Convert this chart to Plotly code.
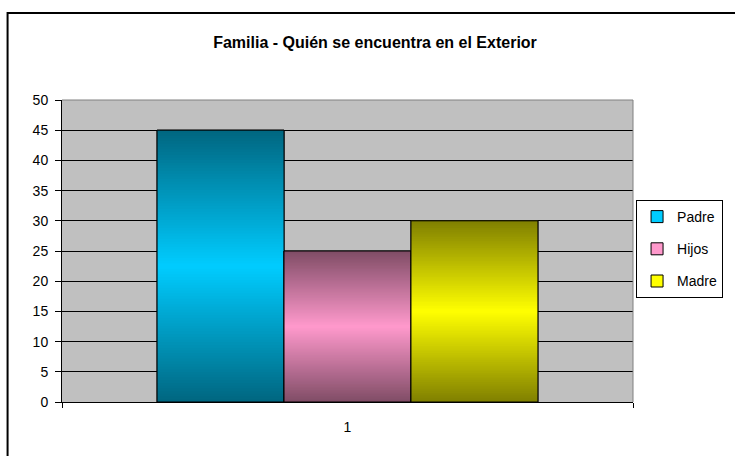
import plotly.graph_objects as go

# data
category = ["1"]
series_names = ["Padre", "Hijos", "Madre"]
series_values = [45, 25, 30]
y_ticks = [0, 5, 10, 15, 20, 25, 30, 35, 40, 45, 50]

# Excel-style fills: bright centre colour, half-shade at the edges
bright = {"Padre": (0, 204, 255), "Hijos": (255, 153, 204), "Madre": (255, 255, 0)}

FONT = "Liberation Sans, Arial, sans-serif"
STEPS = 100

W, H = 735, 456
ML, MR, MT, MB = 62, 96, 100, 54
PW, PH = W - ML - MR, H - MT - MB


def shade(rgb, t):
    # t = 0 centre (bright), t = 1 edge (half intensity)
    f = 1 - 0.5 * t
    return "rgb(%d,%d,%d)" % tuple(round(c * f) for c in rgb)


fig = go.Figure()

for name, val in zip(series_names, series_values):
    rgb = bright[name]
    # base bar, also used for the legend entry
    fig.add_trace(go.Bar(
        x=category, y=[val], name=name, offsetgroup=name, legendgroup=name,
        marker=dict(color=shade(rgb, 0), line=dict(color="black", width=1))))
    # gradient: thin overlapping slices of the same bar
    h = val / STEPS
    bases = [i * h for i in range(STEPS)]
    heights = [min(3 * h, val - b) for b in bases]
    cols = [shade(rgb, abs(2 * (i + 0.5) / STEPS - 1)) for i in range(STEPS)]
    fig.add_trace(go.Bar(
        x=category * STEPS, y=heights, base=bases, offsetgroup=name,
        legendgroup=name, showlegend=False,
        marker=dict(color=cols, line=dict(width=0))))
    # outline on top
    fig.add_trace(go.Bar(
        x=category, y=[val], offsetgroup=name, legendgroup=name, showlegend=False,
        marker=dict(color="rgba(0,0,0,0)", line=dict(color="black", width=1))))

fig.update_layout(
    width=W, height=H,
    margin=dict(l=ML, r=MR, t=MT, b=MB),
    paper_bgcolor="white", plot_bgcolor="#C0C0C0",
    barmode="group", bargap=0.333, bargroupgap=0,
    hovermode=False,
    font=dict(family=FONT, size=14, color="black"),
    title=dict(text="<b>Familia - Quién se encuentra en el Exterior</b>",
               font=dict(family=FONT, size=16, color="black"),
               xref="container", x=375 / W, xanchor="center",
               yref="container", y=1 - 42 / H, yanchor="middle"),
    legend=dict(x=(730 - ML) / PW, xanchor="right",
                y=(H - MB - 249) / PH, yanchor="middle",
                bgcolor="white", bordercolor="black", borderwidth=1,
                traceorder="grouped", tracegroupgap=11,
                itemclick=False, itemdoubleclick=False,
                font=dict(family=FONT, size=14, color="black")),
    xaxis=dict(type="category", showgrid=False, showline=True, linecolor="black",
               linewidth=1, ticks="outside", tickson="boundaries", ticklen=5,
               tickcolor="black", ticklabelstandoff=12, zeroline=False),
    yaxis=dict(range=[0, 50], tickvals=y_ticks, showgrid=True, gridcolor="black",
               gridwidth=1, showline=True, linecolor="black", linewidth=1,
               ticks="outside", ticklen=6, tickcolor="black",
               ticklabelstandoff=4, zeroline=False),
    shapes=[
        # grey plot-area border on top and right
        dict(type="line", xref="paper", yref="paper", x0=0, x1=1, y0=1, y1=1,
             line=dict(color="#808080", width=1), layer="above"),
        dict(type="line", xref="paper", yref="paper", x0=1, x1=1, y0=0, y1=1,
             line=dict(color="#808080", width=1), layer="above"),
        # chart-area frame, running off the right and bottom edges
        dict(type="rect", xref="paper", yref="paper",
             x0=(7 - ML) / PW, x1=1.5, y0=-0.5, y1=(H - MB - 13) / PH,
             line=dict(color="black", width=2), fillcolor="rgba(0,0,0,0)"),
    ],
)

# drop the default body margin so the figure fills the window exactly
fig.write_html("out.html", config={"displayModeBar": False, "staticPlot": True},
               post_script="document.body.style.margin='0';"
                           "document.body.style.overflow='hidden';")
